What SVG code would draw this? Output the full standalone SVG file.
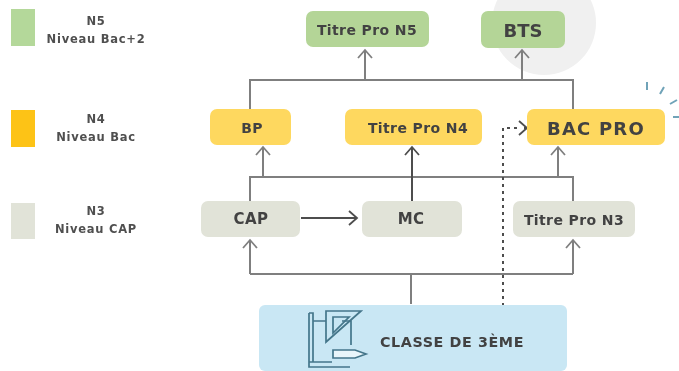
<svg xmlns="http://www.w3.org/2000/svg" width="679" height="371" viewBox="0 0 679 371">
<defs>
<marker id="a" markerUnits="userSpaceOnUse" markerWidth="18" markerHeight="16" refX="14" refY="8" orient="auto"><path d="M6 1L14 8L6 15" fill="none" stroke="context-stroke" stroke-width="1.8"/></marker>
<filter id="b"><feGaussianBlur stdDeviation="0.55"/></filter>
</defs>
<style>
text{font-family:"DejaVu Sans",sans-serif;font-weight:700;text-anchor:middle;fill:#424242}
.l{font-size:11.5px;fill:#505050;letter-spacing:.75px}
.n{font-size:14px;letter-spacing:.4px}
.w{font-size:15px;letter-spacing:.4px}
.m{font-size:18px}
.g{fill:#b4d597}.y{fill:#fed85f}.s{fill:#e1e3d8}
.c{fill:none;stroke:#7f7f7f;stroke-width:2}
.d{stroke:#4d4d4d}
.i{fill:none;stroke:#44768a;stroke-width:1.7}
</style>
<rect width="679" height="371" fill="#fff"/>
<g filter="url(#b)">
<circle cx="544" cy="23" r="52" fill="#f0f0f0"/>
<g id="decor" fill="none" stroke="#6fa3b8" stroke-width="2"><path d="M647 82L647 90M664 87L660 94M677 100L670 104M673 117L679 117"/></g>
<g id="legend-n5"><rect x="11" y="9" width="24" height="37" fill="#b4d89a"/><text class="l" x="96" y="25">N5</text><text class="l" x="96" y="43">Niveau Bac+2</text></g>
<g id="legend-n4"><rect x="11" y="110" width="24" height="37" fill="#fdc313"/><text class="l" x="96" y="123">N4</text><text class="l" x="96" y="141">Niveau Bac</text></g>
<g id="legend-n3"><rect x="11" y="203" width="24" height="36" fill="#e1e3d8"/><text class="l" x="96" y="215">N3</text><text class="l" x="96" y="233">Niveau CAP</text></g>
<g id="connectors">
<path class="c" d="M250 109V80H573V109"/>
<path class="c" marker-end="url(#a)" d="M365 80V50"/>
<path class="c" marker-end="url(#a)" d="M522 80V50"/>
<path class="c" marker-end="url(#a)" d="M263 177V147"/>
<path class="c" d="M250 201V177H573V201"/>
<path class="c d" marker-end="url(#a)" d="M412 201V147"/>
<path class="c" marker-end="url(#a)" d="M558 177V147"/>
<path class="c d" marker-end="url(#a)" d="M301 218H357"/>
<path class="c" marker-end="url(#a)" d="M250 274V240"/>
<path class="c" d="M250 274H573"/>
<path class="c" marker-end="url(#a)" d="M573 274V240"/>
<path class="c" d="M411 274V304"/>
<path class="c d" stroke-width="2.5" stroke-dasharray="3 4" d="M503 306V128H518"/>
<path class="c d" stroke-width="2.4" marker-end="url(#a)" d="M524 128H527"/>
</g>
<g id="titre-pro-n5"><rect class="g" x="306" y="11" width="123" height="36" rx="7"/><text class="n" x="367" y="35">Titre Pro N5</text></g>
<g id="bts"><rect class="g" x="481" y="11" width="84" height="37" rx="7"/><text class="m" x="523" y="36.500">BTS</text></g>
<g id="bp"><rect class="y" x="210" y="109" width="81" height="36" rx="7"/><text class="n" x="252" y="133">BP</text></g>
<g id="titre-pro-n4"><rect class="y" x="345" y="109" width="137" height="36" rx="7"/><text class="n" x="418" y="133">Titre Pro N4</text></g>
<g id="bac-pro"><rect class="y" x="527" y="109" width="138" height="36" rx="7"/><text class="m" x="596" y="135" style="letter-spacing:1.2px">BAC PRO</text></g>
<g id="cap"><rect class="s" x="201" y="201" width="99" height="36" rx="7"/><text class="w" x="251" y="224">CAP</text></g>
<g id="mc"><rect class="s" x="362" y="201" width="100" height="36" rx="7"/><text class="w" x="411" y="224">MC</text></g>
<g id="titre-pro-n3"><rect class="s" x="513" y="201" width="122" height="36" rx="7"/><text class="n" x="574" y="225">Titre Pro N3</text></g>
<g id="classe"><rect x="259" y="305" width="308" height="66" rx="6" fill="#c9e7f4"/>
<path class="i" d="M309 313V367H350M309 313H313V362H309M313 321H326M342 321H351V345M313 362H332"/>
<path class="i" d="M361 311H326V342ZM333 317H349L333 333Z"/>
<path class="i" fill="#e9f5fa" style="fill:#e9f5fa" d="M333 350H355L366 354L355 358H333Z"/>
<text x="452" y="347" style="font-size:14.3px;letter-spacing:.6px">CLASSE DE 3ÈME</text></g>
</g>
</svg>
